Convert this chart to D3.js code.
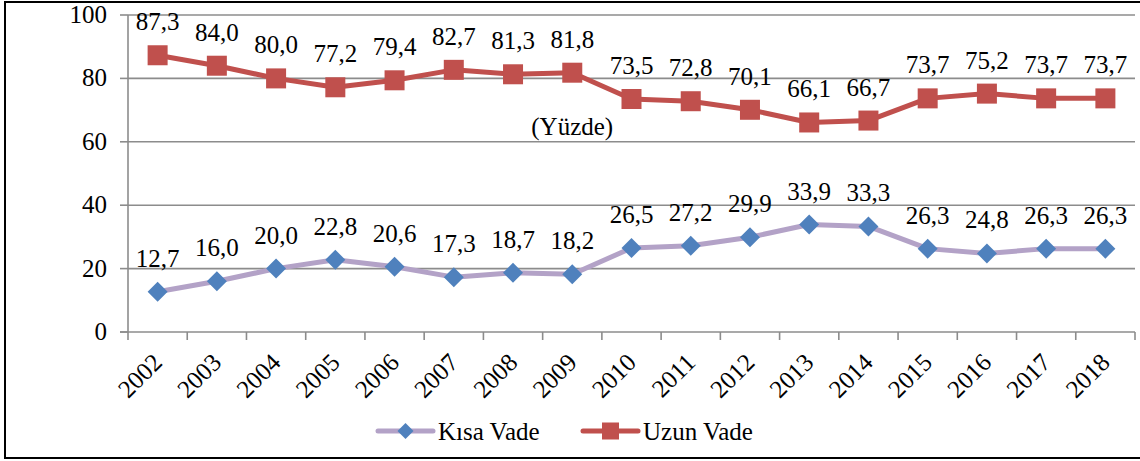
<!DOCTYPE html>
<html>
<head>
<meta charset="utf-8">
<script src="https://cdn.jsdelivr.net/npm/d3@7"></script>
</head>
<body style="margin:0">
<div id="chart"></div>
<script>
// data
const years = ['2002', '2003', '2004', '2005', '2006', '2007', '2008', '2009', '2010',
    '2011', '2012', '2013', '2014', '2015', '2016', '2017', '2018'];
const kisaVade = [12.7, 16.0, 20.0, 22.8, 20.6, 17.3, 18.7, 18.2, 26.5, 27.2, 29.9, 33.9, 33.3, 26.3, 24.8, 26.3, 26.3];
const uzunVade = [87.3, 84.0, 80.0, 77.2, 79.4, 82.7, 81.3, 81.8, 73.5, 72.8, 70.1, 66.1, 66.7, 73.7, 75.2, 73.7, 73.7];
const yTicks = [0, 20, 40, 60, 80, 100];
const unitLabel = '(Yüzde)';

const FONT = 'Times New Roman';
const W = 1140, H = 461;
const margin = { left: 128, right: 5, top: 15, bottom: 129 };
const width = W - margin.left - margin.right;
const height = H - margin.top - margin.bottom;

const fmt = v => v.toFixed(1).replace('.', ',');

const svg = d3.select('#chart').append('svg')
    .attr('width', W)
    .attr('height', H);

// outer frame
svg.append('rect')
    .attr('x', 5).attr('y', 2)
    .attr('width', 1140).attr('height', 456)
    .attr('fill', 'none')
    .attr('stroke', '#000')
    .attr('stroke-width', 2);

const g = svg.append('g')
    .attr('transform', `translate(${margin.left},${margin.top})`);

const xScale = d3.scaleBand().domain(years).range([0, width]);
const yScale = d3.scaleLinear().domain([0, 100]).range([height, 0]);

//gridlines
g.append('g')
    .selectAll('line')
    .data(yTicks.filter(d => d > 0))
    .join('line')
    .attr('x1', 0).attr('x2', width)
    .attr('y1', d => yScale(d)).attr('y2', d => yScale(d))
    .attr('stroke', '#8c8c8c')
    .attr('stroke-width', 1.6);

//y axis line and ticks
g.append('line')
    .attr('x1', 0).attr('x2', 0)
    .attr('y1', 0).attr('y2', height)
    .attr('stroke', '#8c8c8c').attr('stroke-width', 1.6);
g.selectAll('.ytick')
    .data(yTicks)
    .join('line')
    .attr('class', 'ytick')
    .attr('x1', -8).attr('x2', 0)
    .attr('y1', d => yScale(d)).attr('y2', d => yScale(d))
    .attr('stroke', '#8c8c8c').attr('stroke-width', 1.6);

//y labels
g.selectAll('.ylbl')
    .data(yTicks)
    .join('text')
    .attr('class', 'ylbl')
    .attr('x', -21)
    .attr('y', d => yScale(d) + 8)
    .attr('text-anchor', 'end')
    .attr('font-family', FONT)
    .attr('font-size', 25)
    .text(d => d);

//x axis with ticks on band edges
const xa = g.append('g').attr('transform', `translate(0,${height})`);
xa.append('line')
    .attr('x1', -8).attr('x2', width)
    .attr('stroke', '#8c8c8c').attr('stroke-width', 1.6);
xa.selectAll('.edge')
    .data(years.concat(['end']))
    .join('line')
    .attr('class', 'edge')
    .attr('x1', (d, i) => i * xScale.step())
    .attr('x2', (d, i) => i * xScale.step())
    .attr('y1', 0).attr('y2', 8)
    .attr('stroke', '#8c8c8c').attr('stroke-width', 1.6);
xa.selectAll('.lbl')
    .data(years)
    .join('text')
    .attr('class', 'lbl')
    .attr('text-anchor', 'end')
    .attr('transform', d => `translate(${xScale(d) + xScale.bandwidth() / 2 + 6},${32}) rotate(-45)`)
    .attr('font-family', FONT)
    .attr('font-size', 25)
    .text(d => d);

const cx = d => xScale(d) + xScale.bandwidth() / 2;

//lines
const line = vals => d3.line()
    .x((d, i) => cx(years[i]))
    .y(d => yScale(d))(vals);

g.append('path')
    .attr('d', line(kisaVade))
    .attr('fill', 'none')
    .attr('stroke', '#B3A2C7')
    .attr('stroke-width', 5)
    .attr('stroke-linejoin', 'round');

g.append('path')
    .attr('d', line(uzunVade))
    .attr('fill', 'none')
    .attr('stroke', '#C0504D')
    .attr('stroke-width', 5)
    .attr('stroke-linejoin', 'round');

//markers
const diamond = d3.symbol().type(d3.symbolSquare).size(200);
g.selectAll('.kisa')
    .data(kisaVade)
    .join('path')
    .attr('class', 'kisa')
    .attr('d', diamond)
    .attr('transform', (d, i) => `translate(${cx(years[i])},${yScale(d)}) rotate(45)`)
    .attr('fill', '#4F81BD');

g.selectAll('.uzun')
    .data(uzunVade)
    .join('rect')
    .attr('class', 'uzun')
    .attr('x', (d, i) => cx(years[i]) - 10)
    .attr('y', d => yScale(d) - 10)
    .attr('width', 20).attr('height', 20)
    .attr('fill', '#C0504D');

//data labels
[kisaVade, uzunVade].forEach(vals => {
    g.append('g')
        .selectAll('text')
        .data(vals)
        .join('text')
        .attr('x', (d, i) => cx(years[i]))
        .attr('y', d => yScale(d) - 25)
        .attr('text-anchor', 'middle')
        .attr('font-family', FONT)
        .attr('font-size', 25)
        .text(fmt);
});

//unit note
g.append('text')
    .attr('x', cx('2009'))
    .attr('y', yScale(62))
    .attr('text-anchor', 'middle')
    .attr('font-family', FONT)
    .attr('font-size', 25)
    .text(unitLabel);

//legend
const legend = svg.append('g').attr('transform', 'translate(0,431)');
const items = [
    { name: 'Kısa Vade', color: '#B3A2C7', mark: '#4F81BD', x: 378, type: 'diamond' },
    { name: 'Uzun Vade', color: '#C0504D', mark: '#C0504D', x: 583, type: 'square' }
];
items.forEach(it => {
    legend.append('line')
        .attr('x1', it.x).attr('x2', it.x + 55)
        .attr('stroke', it.color).attr('stroke-width', 5)
        .attr('stroke-linecap', 'round');
    if (it.type === 'diamond') {
        legend.append('path')
            .attr('d', d3.symbol().type(d3.symbolSquare).size(128)())
            .attr('transform', `translate(${it.x + 27.5},0) rotate(45)`)
            .attr('fill', it.mark);
    } else {
        legend.append('rect')
            .attr('x', it.x + 19).attr('y', -8.5)
            .attr('width', 17).attr('height', 17)
            .attr('fill', it.mark);
    }
    legend.append('text')
        .attr('x', it.x + 60)
        .attr('y', 9)
        .attr('font-family', FONT)
        .attr('font-size', 25)
        .text(it.name);
});
</script>
</body>
</html>
